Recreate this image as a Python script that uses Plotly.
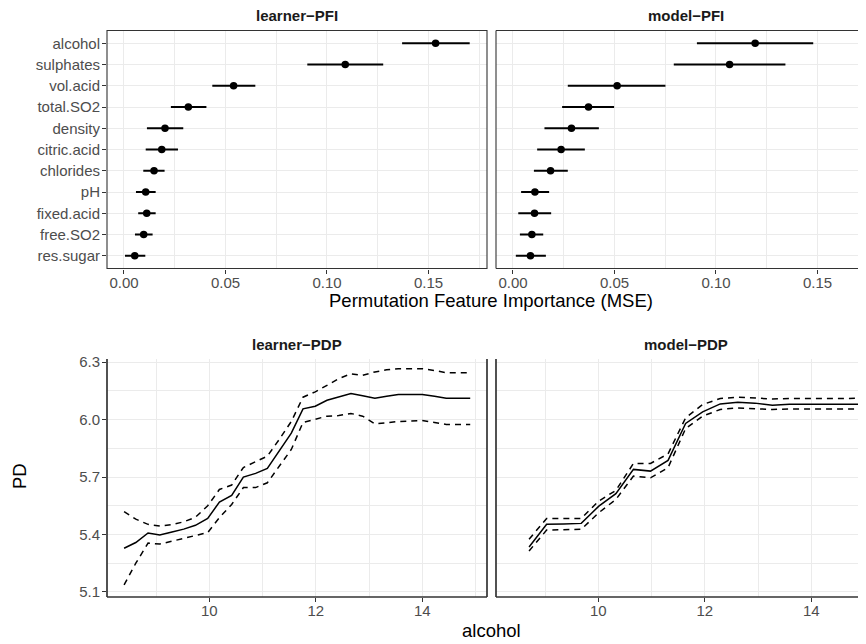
import numpy as np
import plotly.graph_objects as go

# ---------------- data ----------------
features = ["alcohol", "sulphates", "vol.acid", "total.SO2", "density", "citric.acid",
            "chlorides", "pH", "fixed.acid", "free.SO2", "res.sugar"]
learner_pfi = [0.1535, 0.1090, 0.0540, 0.0317, 0.0202, 0.0186, 0.0148, 0.0107, 0.0112, 0.0097, 0.0053]
learner_pfi_lo = [0.1370, 0.0903, 0.0435, 0.0231, 0.0113, 0.0107, 0.0095, 0.0059, 0.0070, 0.0054, 0.0005]
learner_pfi_hi = [0.1703, 0.1277, 0.0647, 0.0406, 0.0292, 0.0266, 0.0200, 0.0156, 0.0156, 0.0141, 0.0105]
model_pfi = [0.1193, 0.1067, 0.0513, 0.0372, 0.0288, 0.0237, 0.0185, 0.0108, 0.0106, 0.0093, 0.0086]
model_pfi_lo = [0.0906, 0.0792, 0.0270, 0.0242, 0.0155, 0.0119, 0.0103, 0.0040, 0.0026, 0.0034, 0.0014]
model_pfi_hi = [0.1479, 0.1342, 0.0751, 0.0498, 0.0423, 0.0354, 0.0270, 0.0178, 0.0188, 0.0149, 0.0162]

learner_alcohol = [8.40, 8.62, 8.85, 9.07, 9.30, 9.52, 9.74, 9.97, 10.19, 10.42,
                   10.64, 10.87, 11.09, 11.31, 11.54, 11.76, 11.99, 12.21, 12.43, 12.66,
                   12.88, 13.11, 13.33, 13.55, 13.78, 14.00, 14.23, 14.45, 14.68, 14.90]
learner_pd = [5.328, 5.358, 5.408, 5.397, 5.413, 5.428, 5.448, 5.484, 5.569, 5.604,
              5.700, 5.719, 5.745, 5.835, 5.929, 6.056, 6.070, 6.101, 6.119, 6.136,
              6.124, 6.112, 6.122, 6.131, 6.131, 6.131, 6.122, 6.112, 6.112, 6.112]
learner_pd_hi = [5.519, 5.480, 5.453, 5.444, 5.452, 5.466, 5.490, 5.550, 5.635, 5.658,
                 5.750, 5.782, 5.809, 5.895, 5.990, 6.117, 6.145, 6.179, 6.214, 6.239,
                 6.231, 6.249, 6.260, 6.266, 6.266, 6.266, 6.256, 6.245, 6.245, 6.245]
learner_pd_lo = [5.137, 5.250, 5.355, 5.350, 5.365, 5.380, 5.395, 5.410, 5.488, 5.557,
                 5.645, 5.645, 5.670, 5.757, 5.844, 5.985, 6.000, 6.018, 6.021, 6.032,
                 6.018, 5.978, 5.983, 5.990, 5.993, 5.995, 5.985, 5.975, 5.974, 5.974]

model_alcohol = [8.70, 9.03, 9.35, 9.68, 10.01, 10.33, 10.66, 10.98, 11.31, 11.64,
                 11.96, 12.29, 12.62, 12.94, 13.27, 13.59, 13.92, 14.25, 14.57, 14.90]
model_pd = [5.335, 5.453, 5.455, 5.458, 5.548, 5.613, 5.740, 5.731, 5.787, 5.980,
            6.040, 6.082, 6.091, 6.086, 6.075, 6.080, 6.080, 6.080, 6.080, 6.080]
model_pd_hi = [5.375, 5.484, 5.484, 5.484, 5.575, 5.630, 5.771, 5.771, 5.821, 6.009,
               6.079, 6.110, 6.117, 6.113, 6.108, 6.110, 6.111, 6.111, 6.111, 6.111]
model_pd_lo = [5.314, 5.423, 5.425, 5.427, 5.514, 5.583, 5.705, 5.696, 5.749, 5.953,
               6.018, 6.053, 6.061, 6.056, 6.053, 6.055, 6.056, 6.056, 6.056, 6.056]

pfi_ticks = [0.0, 0.05, 0.10, 0.15]
pfi_ticklabels = ["0.00", "0.05", "0.10", "0.15"]
alc_ticks = [10, 12, 14]
pd_ticks = [5.1, 5.4, 5.7, 6.0, 6.3]
pd_ticklabels = ["5.1", "5.4", "5.7", "6.0", "6.3"]

# ---------------- layout helpers ----------------
OFF = 8  # page body margin
W, H = 866 - OFF, 644 - OFF
FONT = "Liberation Sans, Arial, Helvetica, sans-serif"
GRID = "#EBEBEB"
DARK = "#333333"


def px(x):
    return (x - OFF) / W


def py(y):
    return (H - (y - OFF)) / H


fig = go.Figure()

# PFI panels
for (vals, lo, hi, xa, ya) in [(learner_pfi, learner_pfi_lo, learner_pfi_hi, "x", "y"),
                               (model_pfi, model_pfi_lo, model_pfi_hi, "x2", "y2")]:
    v = np.array(vals)
    fig.add_trace(go.Scatter(
        x=v, y=features, mode="markers", xaxis=xa, yaxis=ya,
        marker=dict(color="black", size=7.5),
        error_x=dict(type="data", symmetric=False,
                     array=np.array(hi) - v, arrayminus=v - np.array(lo),
                     color="black", thickness=2, width=0),
        showlegend=False, hoverinfo="skip"))

# PDP panels
for (xs, m, lo, hi, xa, ya) in [(learner_alcohol, learner_pd, learner_pd_lo, learner_pd_hi, "x3", "y3"),
                                (model_alcohol, model_pd, model_pd_lo, model_pd_hi, "x4", "y4")]:
    fig.add_trace(go.Scatter(x=xs, y=m, mode="lines", xaxis=xa, yaxis=ya,
                             line=dict(color="black", width=1.5), showlegend=False))
    for s in (hi, lo):
        fig.add_trace(go.Scatter(x=xs, y=s, mode="lines", xaxis=xa, yaxis=ya,
                                 line=dict(color="black", width=1.5, dash="6px,5px"),
                                 showlegend=False))

tickfont = dict(family=FONT, size=15, color="#4D4D4D")

L0, L1 = 107, 487
R0, R1 = 496, 866
T0, T1 = 30.5, 268.5
B0, B1 = 359, 597

dx_top = 380 / 2030.0
x_top0 = -0.00837
dx_bot = 380 / 53.25
x_bot0 = 8.079


def xaxis(domain, rng, tickvals, ticktext, minor_vals, anchor):
    return dict(domain=domain, range=rng, tickvals=tickvals, ticktext=ticktext,
                anchor=anchor, automargin=False, ticklabelstandoff=-4,
                showgrid=True, gridcolor=GRID, gridwidth=1.4, zeroline=False,
                showline=False, ticks="outside", ticklen=4, tickwidth=1, tickcolor=DARK,
                tickfont=tickfont, fixedrange=True,
                minor=dict(tickvals=minor_vals, showgrid=True, gridcolor=GRID,
                           gridwidth=0.8, ticks=""))


fig.update_layout(
    width=W, height=H, margin=dict(l=0, r=0, t=0, b=0, pad=0), autosize=False,
    paper_bgcolor="white", plot_bgcolor="white",
    font=dict(family=FONT),
    xaxis=xaxis([px(L0), px(L1)], [x_top0, x_top0 + dx_top], pfi_ticks, pfi_ticklabels,
                [0.025, 0.075, 0.125, 0.175], "y"),
    xaxis2=xaxis([px(R0), px(R1)], [x_top0, x_top0 + 370 / 2030.0], pfi_ticks, pfi_ticklabels,
                 [0.025, 0.075, 0.125, 0.175], "y2"),
    xaxis3=xaxis([px(L0), px(L1)], [x_bot0, x_bot0 + dx_bot], alc_ticks,
                 [str(t) for t in alc_ticks], [9, 11, 13, 15], "y3"),
    xaxis4=xaxis([px(R0), px(R1)], [x_bot0, x_bot0 + 370 / 53.25], alc_ticks,
                 [str(t) for t in alc_ticks], [9, 11, 13, 15], "y4"),
    yaxis=dict(domain=[py(T1), py(T0)], type="category", categoryorder="array",
               categoryarray=list(reversed(features)), range=[-0.6, 10.6],
               showgrid=True, gridcolor=GRID, gridwidth=1.4, zeroline=False,
               ticks="outside", ticklen=4, tickcolor=DARK, tickfont=tickfont,
               anchor="x", fixedrange=True, automargin=False, ticklabelstandoff=-1),
    yaxis2=dict(domain=[py(T1), py(T0)], type="category", categoryorder="array",
                categoryarray=list(reversed(features)), range=[-0.6, 10.6],
                showgrid=True, gridcolor=GRID, gridwidth=1.4, zeroline=False,
                showticklabels=False, ticks="", anchor="x2", fixedrange=True,
                automargin=False),
    yaxis3=dict(domain=[py(B1), py(B0)], range=[5.0735, 6.3165], tickvals=pd_ticks,
                ticktext=pd_ticklabels, showgrid=True, gridcolor=GRID, gridwidth=1.4,
                zeroline=False, ticks="outside", ticklen=4, tickcolor=DARK,
                tickfont=tickfont, anchor="x3", fixedrange=True, automargin=False,
                ticklabelstandoff=-1,
                minor=dict(tickvals=[5.25, 5.55, 5.85, 6.15], showgrid=True,
                           gridcolor=GRID, gridwidth=0.8, ticks="")),
    yaxis4=dict(domain=[py(B1), py(B0)], range=[5.0735, 6.3165], tickvals=pd_ticks,
                showgrid=True, gridcolor=GRID, gridwidth=1.4, zeroline=False,
                showticklabels=False, ticks="", anchor="x4", fixedrange=True,
                automargin=False,
                minor=dict(tickvals=[5.25, 5.55, 5.85, 6.15], showgrid=True,
                           gridcolor=GRID, gridwidth=0.8, ticks="")),
)

# panel frames
def seg(x0, y0, x1, y1, w):
    return dict(type="line", xref="paper", yref="paper", x0=px(x0), y0=py(y0),
                x1=px(x1), y1=py(y1), line=dict(color=DARK, width=w), layer="above")


shapes = [
    dict(type="rect", xref="paper", yref="paper", x0=px(L0), y0=py(T1), x1=px(L1), y1=py(T0),
         line=dict(color=DARK, width=1.1), layer="above"),
    seg(R0, T0, R1, T0, 1.1), seg(R0, T0, R0, T1, 1.1), seg(R0, T1, R1, T1, 1.1),
    seg(L0, B0, L0, B1, 1.7), seg(L0, B1, L1, B1, 1.7), seg(L1, B0, L1, B1, 1.7),
    seg(R0, B0, R0, B1, 1.7), seg(R0, B1, R1, B1, 1.7),
]
fig.update_layout(shapes=shapes)

strip_font = dict(family=FONT, size=15, color="#1A1A1A", weight="bold")
title_font = dict(family=FONT, size=18.5, color="black")
ann = [
    dict(text="learner\u2212PFI", x=px(297), y=py(16), font=strip_font),
    dict(text="model\u2212PFI", x=px(685.5), y=py(16), font=strip_font),
    dict(text="learner\u2212PDP", x=px(297), y=py(344.5), font=strip_font),
    dict(text="model\u2212PDP", x=px(685.5), y=py(344.5), font=strip_font),
    dict(text="Permutation Feature Importance (MSE)", x=px(491), y=py(300), font=title_font),
    dict(text="alcohol", x=px(491), y=py(630), font=title_font),
    dict(text="PD", x=px(19), y=py(476), font=title_font, textangle=-90),
]
for a in ann:
    a.update(xref="paper", yref="paper", showarrow=False, xanchor="center", yanchor="middle")
fig.update_layout(annotations=ann)

fig.write_html("out.html")
